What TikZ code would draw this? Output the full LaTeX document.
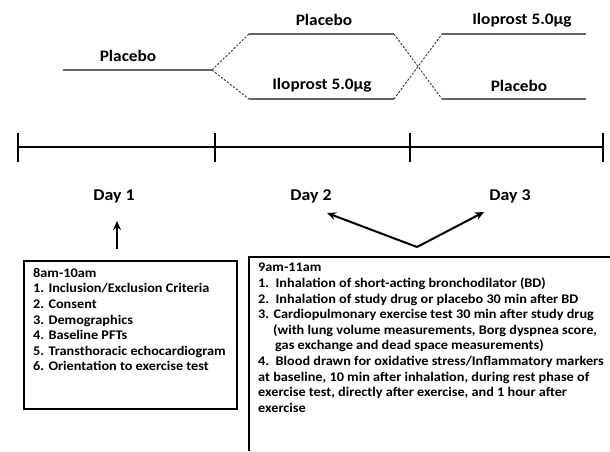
\documentclass[tikz,border=0pt]{standalone}
\usepackage{fontspec}
\setmainfont{Carlito}[FakeStretch=1.08]
\usetikzlibrary{arrows.meta}

\tikzset{
  arm/.style={draw=black!60, line width=1.4pt},
  switch/.style={draw=black!80, dash pattern=on 2.2pt off 1.6pt, line width=0.9pt},
  armlabel/.style={font=\bfseries\fontsize{16}{18}\selectfont, inner sep=0pt},
  daylabel/.style={font=\bfseries\fontsize{16.5}{19}\selectfont, inner sep=0pt},
  listtext/.style={font=\bfseries\fontsize{13.2}{15.6}\selectfont, align=left, anchor=north west, inner sep=0pt},
  boxline/.style={line width=2pt},
  pointer/.style={-{Stealth[length=9pt,width=8pt]}, line width=2pt}
}

\begin{document}
\begin{tikzpicture}[x=1pt,y=-1pt]
	\useasboundingbox (0,0) rectangle (610,451);
	% treatment arms
	\coordinate (p0) at (63,70);
	\coordinate (p1) at (212,70);
	\coordinate (up0) at (249,34);
	\coordinate (up1) at (394,34);
	\coordinate (lo0) at (249,99);
	\coordinate (lo1) at (394,99);
	\coordinate (ru0) at (442,34);
	\coordinate (ru1) at (586,34);
	\coordinate (rl0) at (442,99);
	\coordinate (rl1) at (586,99);
	\draw[arm] (p0) -- (p1);
	\draw[arm] (up0) -- (up1);
	\draw[arm] (lo0) -- (lo1);
	\draw[arm] (ru0) -- (ru1);
	\draw[arm] (rl0) -- (rl1);
	\draw[switch] (p1) -- (up0);
	\draw[switch] (p1) -- (lo0);
	\draw[switch] (up1) -- (rl0);
	\draw[switch] (lo1) -- (ru0);
	\node[armlabel] (plac0) at (128,56) {Placebo};
	\node[armlabel] (plac1) at (324,20) {Placebo};
	\node[armlabel] (ilo1) at (322,85) {Iloprost 5.0µg};
	\node[armlabel] (ilo2) at (522,20) {Iloprost 5.0µg};
	\node[armlabel] (plac2) at (519,86) {Placebo};
	% timeline
	\coordinate (t0) at (18,147);
	\coordinate (t1) at (215,147);
	\coordinate (t2) at (410,147);
	\coordinate (t3) at (603,147);
	\draw[line width=2.6pt] (t0) -- (t3);
	\foreach \t in {t0,t1,t2,t3}
		\draw[line width=2pt] ([yshift=14pt]\t) -- ([yshift=-15pt]\t);
	\node[daylabel] (day1) at (114,196) {Day 1};
	\node[daylabel] (day2) at (311,196) {Day 2};
	\node[daylabel] (day3) at (510,196) {Day 3};
	% screening visit
	\draw[boxline] (24,261) rectangle (237,409);
	\node[listtext] (visit1) at (33,268) {8am-10am\\
		1. Inclusion/Exclusion Criteria\\
		2. Consent\\
		3. Demographics\\
		4. Baseline PFTs\\
		5. Transthoracic echocardiogram\\
		6. Orientation to exercise test};
	\coordinate (v1top) at (117,249);
	\draw[pointer] (v1top) -- (117,221);
	% study visits
	\draw[boxline] (249,451) -- (249,257) -- (611,257);
	\node[listtext] (visit23) at (258,263) {9am-11am\\
		1.\ \ Inhalation of short-acting bronchodilator (BD)\\
		2.\ \ Inhalation of study drug or placebo 30 min after BD\\
		3. Cardiopulmonary exercise test 30 min after study drug\\
		\hspace*{15pt}(with lung volume measurements, Borg dyspnea score,\\
		\hspace*{17pt}gas exchange and dead space measurements)\\
		4.\ \ Blood drawn for oxidative stress/Inflammatory markers\\
		at baseline, 10 min after inhalation, during rest phase of\\
		exercise test, directly after exercise, and 1 hour after\\
		exercise};
	\coordinate (fork) at (417,247);
	\coordinate (d2tip) at (327,213);
	\coordinate (d3tip) at (484,212);
	\draw[pointer] (fork) -- (d2tip);
	\draw[pointer] (fork) -- (d3tip);
\end{tikzpicture}
\end{document}
